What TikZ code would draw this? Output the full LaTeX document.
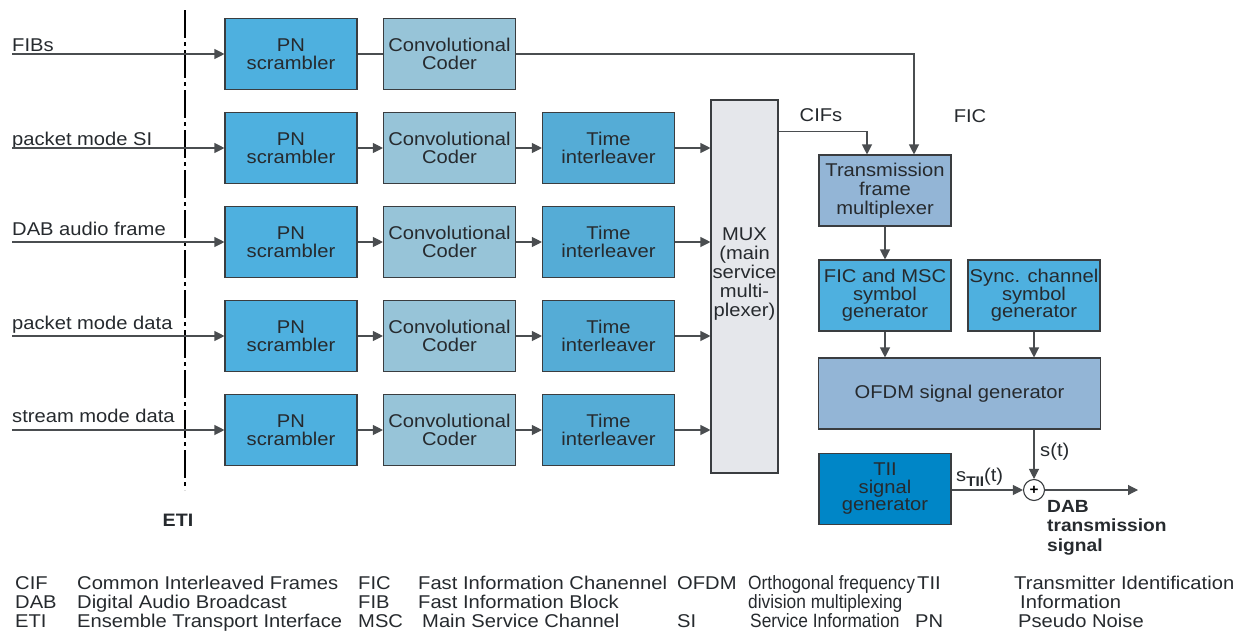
\documentclass[tikz,border=0pt]{standalone}
\usepackage{fontspec}
\setmainfont{Liberation Sans}[FakeStretch=1.09]
\usetikzlibrary{arrows.meta,calc}

\definecolor{pnfill}{HTML}{4EB0DF}
\definecolor{ccfill}{HTML}{97C4D8}
\definecolor{tifill}{HTML}{55ACD6}
\definecolor{muxfill}{HTML}{E5E7EB}
\definecolor{tfmfill}{HTML}{93B5D6}
\definecolor{symfill}{HTML}{4EB0DF}
\definecolor{tiifill}{HTML}{0086C7}
\definecolor{edgecol}{HTML}{3A3D40}
\definecolor{wirecol}{HTML}{4A4D50}
\definecolor{txtcol}{HTML}{262A2E}

\newcommand{\narrow}[1]{\scalebox{0.86}[1.04]{#1}}

\tikzset{
  blk/.style={draw=edgecol, line width=1.1pt, minimum width=132pt, minimum height=71pt,
    align=center, inner sep=0pt, text=txtcol,
    font=\fontsize{18.5}{17.5}\selectfont},
  wire/.style={draw=wirecol, line width=1.1pt},
  arr/.style={wire, -{Triangle[length=10pt,width=10pt]}},
  lbl/.style={inner sep=0pt, text=txtcol, font=\fontsize{18.5}{20}\selectfont},
  blbl/.style={lbl, font=\fontsize{17.6}{19.5}\selectfont\bfseries},
  etiline/.style={draw=black, line width=1.1pt, dash pattern=on 28pt off 4pt on 4pt off 4pt},
}

\begin{document}
\begin{tikzpicture}[x=1pt,y=-1pt]
\useasboundingbox (0,0) rectangle (1236,632);

% ETI interface boundary
\coordinate (etitop) at (185,10);
\coordinate (etibot) at (185,490);
\draw[etiline] (etitop) -- (etibot);
\node[blbl, font=\fontsize{18}{20}\selectfont\bfseries] (eti) at (178,520) {ETI};

% channel coding chains
\foreach \i/\name/\off [count=\k] in {1/FIBs/3,2/packet mode SI/3,3/DAB audio frame/7,4/packet mode data/7,5/stream mode data/8}{
  \pgfmathsetmacro{\yy}{54+94*(\k-1)}
  \coordinate (in\i) at (12,\yy);
  \node[lbl, anchor=base west] (lab\i) at (12,\yy-\off) {\name};
  \node[blk, fill=pnfill] (pn\i) at (291,\yy) {PN\\scrambler};
  \node[blk, fill=ccfill] (cc\i) at (449.5,\yy) {Convolutional\\Coder};
  \draw[arr] (in\i) -- (pn\i);
}
\foreach \i in {2,3,4,5}{
  \node[blk, fill=tifill] (ti\i) at (608.5,{54+94*(\i-1)}) {Time\\interleaver};
  \draw[arr] (pn\i) -- (cc\i);
  \draw[arr] (cc\i) -- (ti\i);
}

% main service multiplexer
\node[blk, fill=muxfill, minimum width=67pt, minimum height=373pt] (mux) at (744.5,286.5) {};
\node[lbl, align=center, font=\fontsize{18.5}{19}\selectfont] (muxtxt) at (744.5,274) {MUX\\(main\\service\\multi-\\plexer)};
\foreach \i in {2,3,4,5}{
  \draw[arr] (ti\i) -- (ti\i -| mux.west);
}

% transmission frame and signal generation
\node[blk, fill=tfmfill, font=\fontsize{18.5}{19}\selectfont] (tfm) at (885,190.5) {Transmission\\frame\\multiplexer};
\node[blk, fill=symfill] (fic) at (885,295.5) {FIC and MSC\\symbol\\generator};
\node[blk, fill=symfill] (sync) at (1034,295.5) {Sync. channel\\symbol\\generator};
\node[blk, fill=tfmfill, minimum width=282pt] (ofdm) at (959.5,393.5) {OFDM signal generator};
\node[blk, fill=tiifill] (tii) at (885,489) {TII\\signal\\generator};
\node[circle, draw=edgecol, fill=white, line width=1.1pt, minimum size=21pt, inner sep=0pt,
      font=\fontsize{14}{14}\selectfont\bfseries] (add) at (1034,490) {+};
\coordinate (out) at (1138,490);

\draw[wire] (pn1) -- (cc1);
\draw[arr] (cc1.east) -| ($(tfm.north)+(29,0)$);
\draw[arr] ($(mux.north east)+(0,32)$) -| ($(tfm.north)+(-18,0)$);
\draw[arr] (tfm) -- (fic);
\draw[arr] (fic) -- (fic |- ofdm.north);
\draw[arr] (sync) -- (sync |- ofdm.north);
\draw[arr] (ofdm.south -| add) -- (add);
\draw[arr] (tii.east |- add) -- (add);
\draw[arr] (add) -- (out);

% signal labels
\node[lbl] (cifs) at (821,115) {CIFs};
\node[lbl] (ficl) at (970,116) {FIC};
\node[lbl, anchor=base west] (st) at (1040,456) {s(t)};
\node[lbl, anchor=base west] (stii) at (956,481) {s\raisebox{-5pt}{\fontsize{14}{14}\selectfont\bfseries TII}(t)};
\node[blbl, anchor=north west, align=left] (dabout) at (1047,500) {DAB\\transmission\\signal};

% abbreviations
\begin{scope}[every node/.style={lbl, anchor=base west}]
\node (a1) at (15,589) {CIF};
\node (d1) at (77,589) {Common Interleaved Frames};
\node (a2) at (358,589) {FIC};
\node (d2) at (418,589) {Fast Information Chanennel};
\node (a3) at (677,589) {OFDM};
\node (d3) at (748,589) {\narrow{Orthogonal frequency}};
\node (a4) at (917,589) {TII};
\node (d4) at (1014,589) {Transmitter Identification};
\node (a5) at (15,608) {DAB};
\node (d5) at (77,608) {Digital Audio Broadcast};
\node (a6) at (358,608) {FIB};
\node (d6) at (418,608) {Fast Information Block};
\node (d7) at (748,608) {\narrow{division multiplexing}};
\node (d8) at (1020,608) {Information};
\node (a9) at (15,627) {ETI};
\node (d9) at (77,627) {Ensemble Transport Interface};
\node (a10) at (358,627) {MSC};
\node (d10) at (422,627) {Main Service Channel};
\node (a11) at (677,627) {SI};
\node (d11) at (750,627) {\narrow{Service Information}};
\node (a12) at (915,627) {PN};
\node (d12) at (1018,627) {Pseudo Noise};
\end{scope}
\end{tikzpicture}
\end{document}
